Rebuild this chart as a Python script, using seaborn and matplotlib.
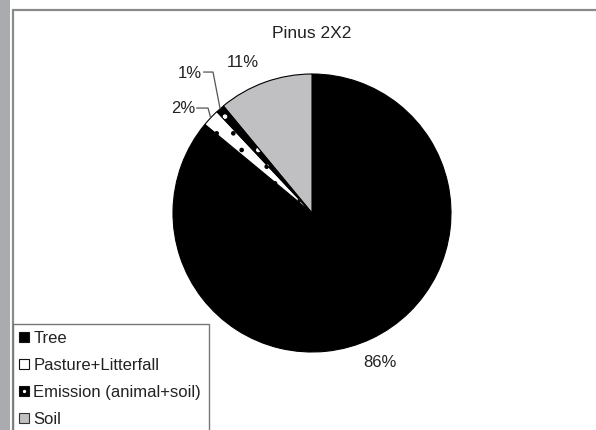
import numpy as np
import matplotlib
matplotlib.use("Agg")
import matplotlib.pyplot as plt
import seaborn as sns
from matplotlib.lines import Line2D
from matplotlib.patches import Rectangle, Wedge
from matplotlib.legend_handler import HandlerTuple

# ---- data ----
title = "Pinus 2X2"
categories = ["Tree", "Pasture+Litterfall", "Emission (animal+soil)", "Soil"]
shares = [86, 2, 1, 11]
pct_labels = ["86%", "2%", "1%", "11%"]
face_colors = ["#000000", "#ffffff", "#000000", "#c0c0c2"]

sns.set_theme(style="white")
plt.rcParams["font.family"] = ["Liberation Sans", "DejaVu Sans"]
plt.rcParams["hatch.linewidth"] = 0.9
TXT = "#222222"

W, H = 596, 430
fig = plt.figure(figsize=(W / 100, H / 100), dpi=100)
fig.patch.set_facecolor("white")

# pie geometry in pixels
cx, cy, R = 312, 213, 139
ax = fig.add_axes([0, 0, 1, 1])

pal = sns.color_palette(face_colors)
wedges, _ = ax.pie(shares, colors=pal, startangle=90, counterclock=False,
                   radius=1.0, center=(0, 0), frame=False,
                   wedgeprops=dict(edgecolor="black", linewidth=0.8))
ax.set_aspect("auto")
ax.set_xlim(-cx / R, (W - cx) / R)
ax.set_ylim(-(H - cy) / R, cy / R)
ax.axis("off")

# hatches
wedges[1].set_hatch(".")
wedges[2].set_edgecolor("white")
wedges[2].set_linewidth(0)
wedges[2].set_hatch(".")
w2 = wedges[2]
ax.add_patch(Wedge((0, 0), 1.0, w2.theta1, w2.theta2, facecolor="none",
                   edgecolor="black", linewidth=0.6, zorder=w2.get_zorder() + 0.1))

def edge_pt(w):
    a = np.deg2rad((w.theta1 + w.theta2) / 2)
    return np.cos(a), np.sin(a)

# labels
ax.text(0.489, -1.072, pct_labels[0], ha="center", va="center", fontsize=12, color=TXT)
ax.text(-0.496, 1.086, pct_labels[3], ha="center", va="center", fontsize=12, color=TXT)

ex, ey = edge_pt(wedges[2])
ax.plot([ex, -0.712, -0.78], [ey, 1.014, 1.014], color="#555555", lw=0.9, zorder=5)
ax.text(-0.79, 1.0, pct_labels[2], ha="right", va="center", fontsize=12, color=TXT)
px, py = edge_pt(wedges[1])
ax.plot([px, -0.748, -0.83], [py, 0.755, 0.755], color="#555555", lw=0.9, zorder=5)
ax.text(-0.84, 0.755, pct_labels[1], ha="right", va="center", fontsize=12, color=TXT)

fig.text(312 / W, 1 - 33 / H, title, ha="center", va="center", fontsize=12.5, color=TXT)

# frame decorations
fig.patches.append(Rectangle((0, 0), 9.5 / W, 1, transform=fig.transFigure,
                             facecolor="#a9abae", edgecolor="none", zorder=0))
fig.add_artist(Line2D([12.5 / W, 1], [1 - 9.5 / H, 1 - 9.5 / H], color="#8a8a8a", lw=1.6,
                      transform=fig.transFigure))
fig.add_artist(Line2D([12.5 / W, 12.5 / W], [0, 1 - 9.5 / H], color="#8a8a8a", lw=1.6,
                      transform=fig.transFigure))

# legend
def sq(fc, ec="#111111"):
    return Line2D([], [], marker="s", ls="none", markersize=6.5, markerfacecolor=fc,
                  markeredgecolor=ec, markeredgewidth=0.8)

h_em2 = Line2D([], [], marker="o", ls="none", markersize=2.4, markerfacecolor="white",
               markeredgecolor="white", markeredgewidth=0)
handles = [sq(face_colors[0]), sq(face_colors[1]), (sq(face_colors[2]), h_em2),
           sq(face_colors[3], "#333333")]
leg = fig.legend(handles, categories,
                 handler_map={tuple: HandlerTuple(ndivide=1, pad=0)},
                 loc="upper left", bbox_to_anchor=(12.5 / W, 1 - 323.5 / H),
                 bbox_transform=fig.transFigure, borderaxespad=0,
                 fontsize=12, frameon=True, fancybox=False, framealpha=1,
                 edgecolor="#777777", handlelength=0.5, handletextpad=0.3,
                 labelspacing=0.71, borderpad=0.45, labelcolor=TXT)
leg.get_frame().set_linewidth(1.0)

fig.savefig("out.png", dpi=100, facecolor="white")
